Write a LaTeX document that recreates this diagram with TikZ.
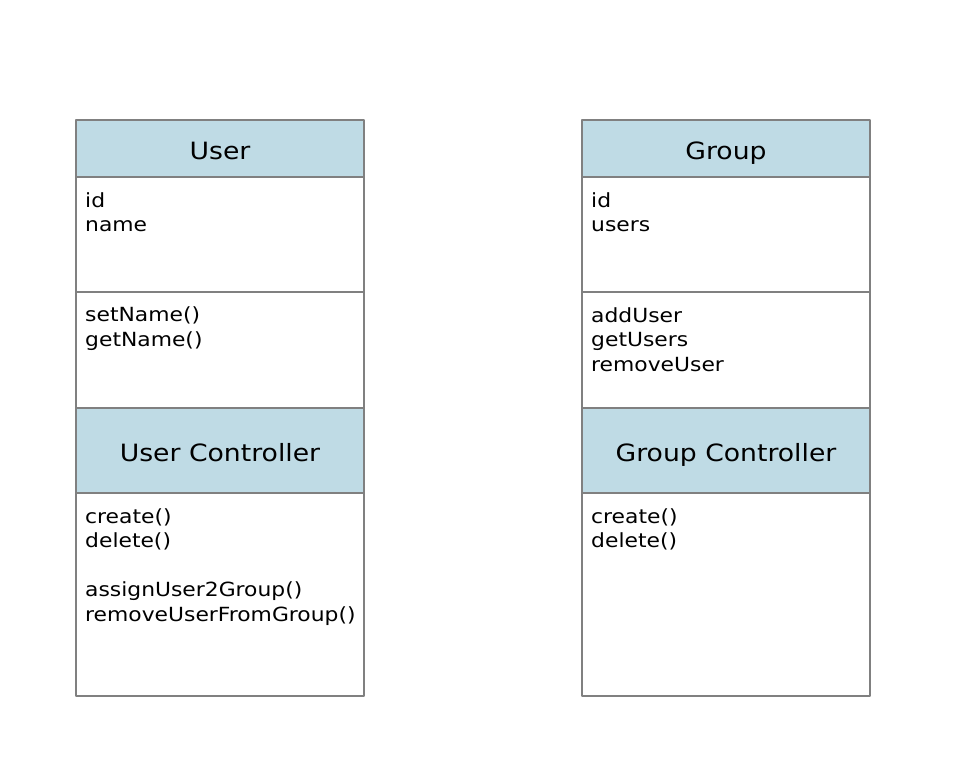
\documentclass[tikz,border=0pt]{standalone}
\usepackage{fontspec}
\setmainfont[FakeStretch=1.12]{DejaVu Sans}
\usepackage{tikz}
\usetikzlibrary{positioning}

\definecolor{headblue}{HTML}{BFDBE5}
\definecolor{edgegray}{HTML}{808080}

\begin{document}
\begin{tikzpicture}[line cap=round,line join=round,x=1pt,y=-1pt,
    box/.style={draw=edgegray,line width=1.3pt,minimum width=288pt,outer sep=0pt,inner sep=0pt},
    head/.style={box,fill=headblue,text height=24pt,text depth=2.4pt,font=\fontsize{23.8}{27}\selectfont},
    body/.style={box,fill=white},
    items/.style={anchor=north west,align=left,inner xsep=9pt,inner ysep=15pt,
        font=\fontsize{19.5}{24.6}\selectfont}]
        \useasboundingbox (0,0) rectangle (964,760);
        % left column
        \node[head,minimum height=57pt,anchor=north west] (user) at (76,120) {User};
        \node[body,minimum height=115pt,below=0pt of user] (userattr) {};
        \node[body,minimum height=116pt,below=0pt of userattr] (userops) {};
        \node[head,minimum height=85pt,below=0pt of userops] (userctl) {User Controller};
        \node[body,minimum height=203pt,below=0pt of userctl] (userctlops) {};
        \node[items] (userattrtxt) at (userattr.north west) {id\\name};
        \node[items] (useropstxt) at (userops.north west) {setName()\\getName()};
        \node[items] (userctltxt) at (userctlops.north west) {create()\\delete()\\[24.6pt]assignUser2Group()\\removeUserFromGroup()};
        % right column
        \node[head,minimum height=57pt,anchor=north west] (group) at (582,120) {Group};
        \node[body,minimum height=115pt,below=0pt of group] (groupattr) {};
        \node[body,minimum height=116pt,below=0pt of groupattr] (groupops) {};
        \node[head,minimum height=85pt,below=0pt of groupops] (groupctl) {Group Controller};
        \node[body,minimum height=203pt,below=0pt of groupctl] (groupctlops) {};
        \node[items] (groupattrtxt) at (groupattr.north west) {id\\users};
        \node[items] (groupopstxt) at (groupops.north west) {addUser\\getUsers\\removeUser};
        \node[items] (groupctltxt) at (groupctlops.north west) {create()\\delete()};
\end{tikzpicture}
\end{document}
